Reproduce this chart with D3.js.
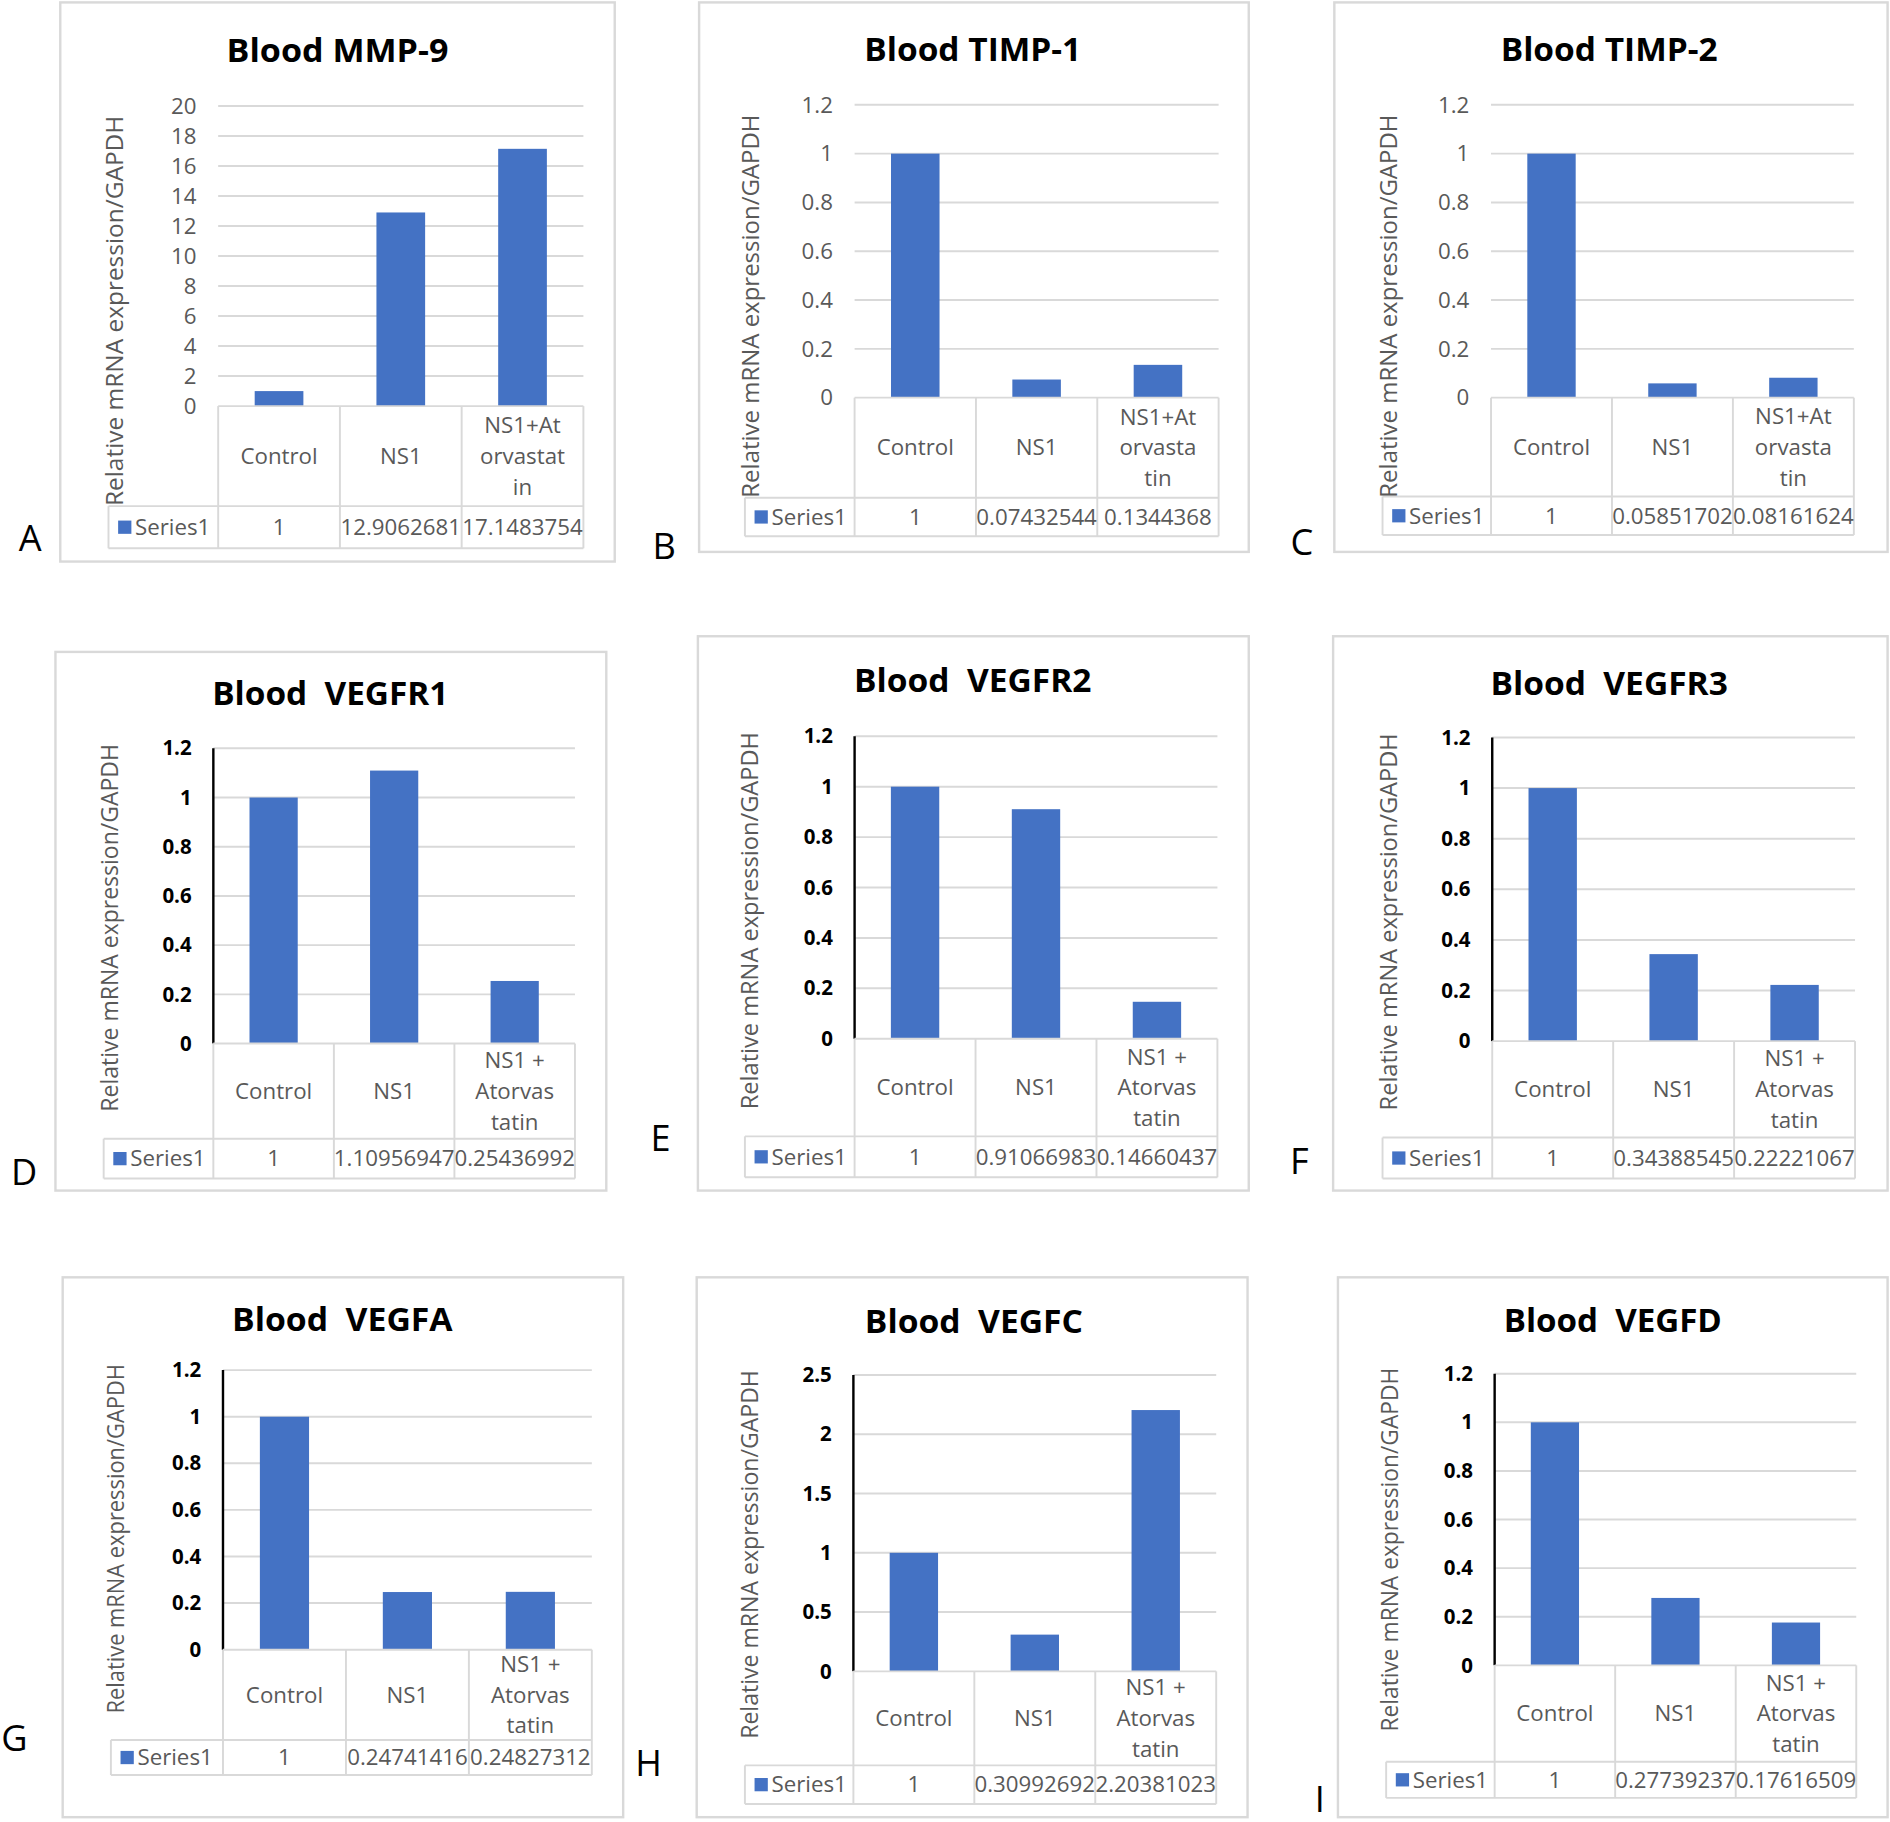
<!DOCTYPE html>
<html>
<head>
<meta charset="utf-8">
<script src="https://cdn.jsdelivr.net/npm/d3@7"></script>
<style>
  body { margin: 0; background: #ffffff; }
  svg { display: block; }
  text { font-family: "Open Sans", "Noto Sans", sans-serif; }
</style>
</head>
<body>
<svg id="chart"></svg>
<script>
// ---- data ----
const categories = ["Control", "NS1", "NS1+Atorvastatin"];
const panelLetters = ["A", "B", "C", "D", "E", "F", "G", "H", "I"];
const titles = [
  "Blood MMP-9", "Blood TIMP-1", "Blood TIMP-2",
  "Blood  VEGFR1", "Blood  VEGFR2", "Blood  VEGFR3",
  "Blood  VEGFA", "Blood  VEGFC", "Blood  VEGFD"
];
const mmp9 = [1, 12.9062681, 17.1483754];
const timp1 = [1, 0.07432544, 0.1344368];
const timp2 = [1, 0.05851702, 0.08161624];
const vegfr1 = [1, 1.10956947, 0.25436992];
const vegfr2 = [1, 0.91066983, 0.14660437];
const vegfr3 = [1, 0.34388545, 0.22221067];
const vegfa = [1, 0.24741416, 0.24827312];
const vegfc = [1, 0.30992692, 2.20381023];
const vegfd = [1, 0.27739237, 0.17616509];
const seriesValues = [mmp9, timp1, timp2, vegfr1, vegfr2, vegfr3, vegfa, vegfc, vegfd];
const yMaxes = [20, 1.2, 1.2, 1.2, 1.2, 1.2, 1.2, 2.5, 1.2];
const ySteps = [2, 0.2, 0.2, 0.2, 0.2, 0.2, 0.2, 0.5, 0.2];
const wrapA = ["NS1+At", "orvastat", "in"];
const wrapBC = ["NS1+At", "orvasta", "tin"];
const wrapRest = ["NS1 +", "Atorvas", "tatin"];
const thirdLabelWraps = [wrapA, wrapBC, wrapBC, wrapRest, wrapRest, wrapRest, wrapRest, wrapRest, wrapRest];
const seriesName = "Series1";
const yLabel = "Relative mRNA expression/GAPDH";

// ---- layout (reference pixel space 1568 x 1512) ----
const [VW, VH] = [1568, 1512];
const [WIDTH, HEIGHT] = [1890, 1822];
// frame, plot x0/x1/yTop/yZero, category row bottom, series row bottom, series left,
// title centre + width, letter pos, y label pos + length, bold ticks style
const layout = [
  { f: [50, 2, 460, 464], x0: 181, x1: 484, yt: 88, yz: 337, cb: 420, sb: 455, sl: 90, t: [280, 42, 184], l: [25, 447], yl: [95, 258, 324], bold: false },
  { f: [580, 2, 456, 456], x0: 709, x1: 1011, yt: 87, yz: 330, cb: 413, sb: 445, sl: 618, t: [807, 41, 180], l: [551, 453], yl: [623, 254, 318], bold: false },
  { f: [1107, 2, 459, 456], x0: 1237, x1: 1538, yt: 87, yz: 330, cb: 412, sb: 444, sl: 1147, t: [1335, 41, 180], l: [1080, 450], yl: [1152, 254, 318], bold: false },
  { f: [46, 541, 457, 447], x0: 177, x1: 477, yt: 621, yz: 866, cb: 945, sb: 978, sl: 86, t: [274, 576, 196], l: [20, 973], yl: [91, 770, 305], bold: true },
  { f: [579, 528, 457, 460], x0: 709, x1: 1010, yt: 611, yz: 862, cb: 943, sb: 977, sl: 618, t: [807, 565, 197], l: [548, 945], yl: [622, 764, 313], bold: true },
  { f: [1106, 528, 460, 460], x0: 1238, x1: 1539, yt: 612, yz: 864, cb: 944, sb: 978, sl: 1147, t: [1335, 567, 197], l: [1078, 964], yl: [1152, 765, 313], bold: true },
  { f: [52, 1060, 465, 448], x0: 185, x1: 491, yt: 1137, yz: 1369, cb: 1444, sb: 1473, sl: 92, t: [284, 1095, 183], l: [12, 1443], yl: [96, 1277, 290], bold: true },
  { f: [578, 1060, 457, 448], x0: 708, x1: 1009, yt: 1141, yz: 1387, cb: 1465, sb: 1497, sl: 618, t: [808, 1097, 181], l: [538, 1463], yl: [622, 1290, 306], bold: true },
  { f: [1110, 1060, 456, 448], x0: 1240, x1: 1540, yt: 1140, yz: 1382, cb: 1462, sb: 1492, sl: 1150, t: [1338, 1096, 181], l: [1095, 1493], yl: [1153, 1286, 302], bold: true }
];

const BAR_COLOR = "#4472c4";
const GRID_COLOR = "#d9d9d9";
const TEXT_GREY = "#595959";

const svg = d3
  .select("#chart")
  .attr("width", WIDTH)
  .attr("height", HEIGHT)
  .attr("viewBox", `0 0 ${VW} ${VH}`)
  .attr("preserveAspectRatio", "none");

const drawPanel = (i) => {
  const L = layout[i];
  const values = seriesValues[i];
  const g = svg.append("g");

  // outer frame
  g.append("rect")
    .attr("x", L.f[0]).attr("y", L.f[1])
    .attr("width", L.f[2]).attr("height", L.f[3])
    .attr("fill", "#fff")
    .attr("stroke", GRID_COLOR)
    .attr("stroke-width", 2);

  const x = d3.scaleBand().domain(categories).range([L.x0, L.x1]).padding(0);
  const y = d3.scaleLinear().domain([0, yMaxes[i]]).range([L.yz, L.yt]);
  const ticks = d3.range(0, yMaxes[i] + ySteps[i] / 2, ySteps[i]).map((v) => +v.toFixed(2));

  // gridlines
  g.selectAll(".grid")
    .data(ticks.filter((v) => v > 0))
    .enter()
    .append("line")
    .attr("x1", L.x0).attr("x2", L.x1)
    .attr("y1", (d) => y(d)).attr("y2", (d) => y(d))
    .attr("stroke", GRID_COLOR)
    .attr("stroke-width", 1.6);

  // y axis via d3 axis, only labels kept
  const axis = g.append("g")
    .attr("transform", `translate(${L.x0 - 6},0)`)
    .call(d3.axisLeft(y).tickValues(ticks).tickSize(0).tickPadding(12).tickFormat((d) => String(+d.toFixed(2))));
  axis.select(".domain").remove();
  axis.selectAll("text")
    .attr("font-family", '"Open Sans", sans-serif')
    .attr("font-size", L.bold ? 17 : 18.5)
    .attr("font-weight", L.bold ? 700 : 400)
    .attr("fill", L.bold ? "#000" : TEXT_GREY);

  // bars
  const bw = x.bandwidth() * 0.4;
  g.selectAll(".bar")
    .data(categories.map((c, k) => ({ c, v: values[k] })))
    .enter()
    .append("rect")
    .attr("x", (d) => x(d.c) + (x.bandwidth() - bw) / 2)
    .attr("y", (d) => y(d.v))
    .attr("width", bw)
    .attr("height", (d) => y(0) - y(d.v))
    .attr("fill", BAR_COLOR);

  if (L.bold) {
    g.append("line")
      .attr("x1", L.x0).attr("x2", L.x0)
      .attr("y1", L.yt).attr("y2", L.yz)
      .attr("stroke", "#000").attr("stroke-width", 2);
  }

  // data table lines
  const tbl = g.append("g").attr("stroke", GRID_COLOR).attr("stroke-width", 1.6);
  tbl.append("line").attr("x1", L.x0).attr("x2", L.x1).attr("y1", L.yz).attr("y2", L.yz);
  tbl.append("line").attr("x1", L.sl).attr("x2", L.x1).attr("y1", L.cb).attr("y2", L.cb);
  tbl.append("line").attr("x1", L.sl).attr("x2", L.x1).attr("y1", L.sb).attr("y2", L.sb);
  tbl.append("line").attr("x1", L.sl).attr("x2", L.sl).attr("y1", L.cb).attr("y2", L.sb);
  const bounds = categories.map((c) => x(c)).concat([L.x1]);
  tbl.selectAll(".vl")
    .data(bounds)
    .enter()
    .append("line")
    .attr("x1", (d) => d).attr("x2", (d) => d)
    .attr("y1", L.yz).attr("y2", L.sb);

  // category labels
  const catMid = (L.yz + L.cb) / 2;
  categories.forEach((c, k) => {
    const lines = k === 2 ? thirdLabelWraps[i] : [c];
    const t = g.append("text")
      .attr("text-anchor", "middle")
      .attr("font-size", 18.5)
      .attr("fill", TEXT_GREY);
    lines.forEach((ln, j) => {
      t.append("tspan")
        .attr("x", x(c) + x.bandwidth() / 2)
        .attr("y", catMid + (j - (lines.length - 1) / 2) * 25.5)
        .attr("dy", "0.35em")
        .text(ln);
    });
  });

  // series row
  const serMid = (L.cb + L.sb) / 2;
  g.append("rect")
    .attr("x", L.sl + 8).attr("y", serMid - 5.5)
    .attr("width", 11).attr("height", 11)
    .attr("fill", BAR_COLOR);
  g.append("text")
    .attr("x", L.sl + 22).attr("y", serMid).attr("dy", "0.35em")
    .attr("font-size", 18.5).attr("fill", TEXT_GREY)
    .text(seriesName);
  g.selectAll(".val")
    .data(categories.map((c, k) => ({ c, v: values[k] })))
    .enter()
    .append("text")
    .attr("x", (d) => x(d.c) + x.bandwidth() / 2)
    .attr("y", serMid).attr("dy", "0.35em")
    .attr("text-anchor", "middle")
    .attr("font-size", 18.5).attr("fill", TEXT_GREY)
    .text((d) => String(d.v));

  // title
  g.append("text")
    .attr("x", L.t[0]).attr("y", L.t[1]).attr("dy", "0.35em")
    .attr("text-anchor", "middle")
    .attr("font-size", 27).attr("font-weight", 700).attr("fill", "#000")
    .attr("textLength", L.t[2]).attr("lengthAdjust", "spacingAndGlyphs")
    .style("white-space", "pre")
    .text(titles[i]);

  // y axis title
  g.append("text")
    .attr("transform", `translate(${L.yl[0]},${L.yl[1]}) rotate(-90)`)
    .attr("text-anchor", "middle").attr("dy", "0.35em")
    .attr("font-size", 19).attr("fill", TEXT_GREY)
    .attr("textLength", L.yl[2]).attr("lengthAdjust", "spacingAndGlyphs")
    .text(yLabel);

  // panel letter
  svg.append("text")
    .attr("x", L.l[0]).attr("y", L.l[1]).attr("dy", "0.35em")
    .attr("text-anchor", "middle")
    .attr("font-family", '"Liberation Sans", Arial, sans-serif')
    .attr("font-size", 30).attr("fill", "#000")
    .text(panelLetters[i]);
};

layout.forEach((_, i) => drawPanel(i));
</script>
</body>
</html>
